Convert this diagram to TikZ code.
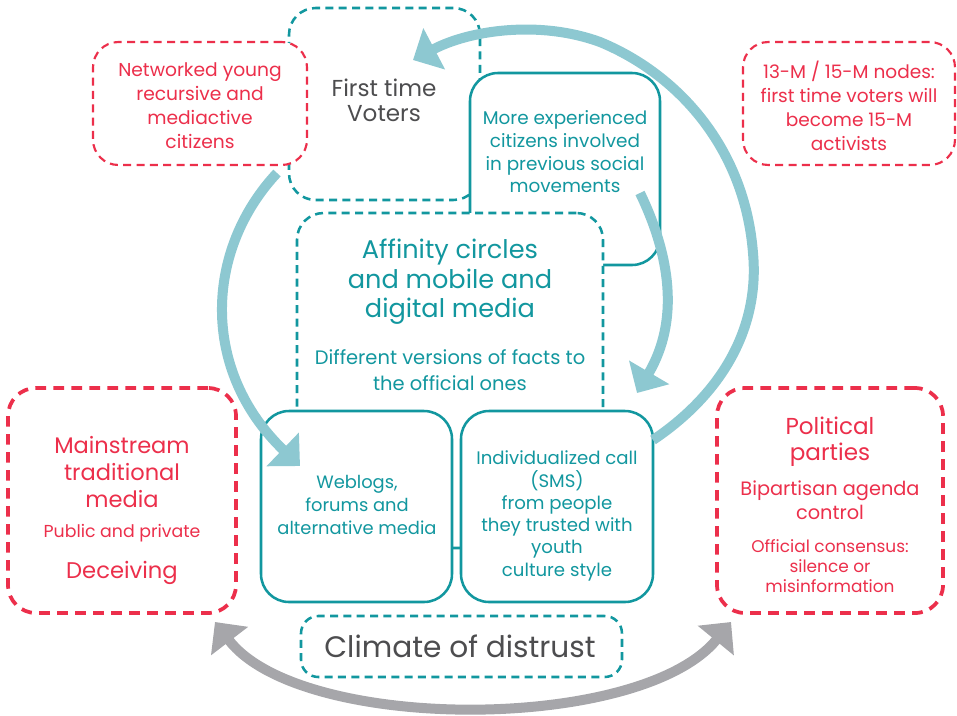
\documentclass[tikz,border=0pt]{standalone}
\usepackage{fontspec}
\setmainfont{Poppins}
\usetikzlibrary{arrows.meta,fit}
\definecolor{teal1}{HTML}{12979F}
\definecolor{red1}{HTML}{EC2F4B}
\definecolor{lblue}{HTML}{8DC8D1}
\definecolor{garr}{HTML}{A6A6AA}
\definecolor{gtxt}{HTML}{4D4D4F}
\newcommand{\fsz}[2]{\fontsize{#1}{#2}\selectfont}
\tikzset{
 tdash/.style={draw=teal1, line width=1.9pt, dash pattern=on 6pt off 4pt, rounded corners=20pt, fill=white, inner sep=0pt},
 tsolid/.style={draw=teal1, line width=1.9pt, rounded corners=21pt, fill=white, inner sep=0pt},
 rdash/.style={draw=red1, line width=1.6pt, dash pattern=on 6pt off 4pt, rounded corners=19pt, fill=white, inner sep=0pt},
 rbig/.style={draw=red1, line width=2.8pt, dash pattern=on 8pt off 5.5pt, rounded corners=21pt, fill=white, inner sep=0pt},
 txt/.style={align=center, inner sep=0pt},
 flow/.style={draw=lblue, line width=7.5pt, -{Triangle[length=18pt,width=34pt]}},
 grayflow/.style={draw=garr, line width=7.5pt, {Triangle[length=18pt,width=34pt]}-{Triangle[length=18pt,width=34pt]}},
}
\begin{document}
\begin{tikzpicture}[x=0.75pt,y=-0.75pt]
\useasboundingbox (0,0) rectangle (957,715);
% boxes
\node[tdash, fit={(289,8)(480,200)}] (ftv) {};
\node[rdash, fit={(93,42)(307,165)}] (net) {};
\node[tsolid, fit={(470,73)(660,265)}] (exp) {};
\node[tdash, fit={(297,213)(603,548)}] (aff) {};
\node[tsolid, fit={(261,411)(452,602)}] (web) {};
\node[tsolid, fit={(461,411)(653,602)}] (ind) {};
\node[tdash, rounded corners=13pt, fit={(301,616)(622,677)}] (clim) {};
\node[rbig, fit={(8,388)(236,613)}] (main) {};
\node[rbig, fit={(717,388)(943,613)}] (pol) {};
\node[rdash, fit={(743,42)(955,165)}] (m15) {};
% texts
\node[txt, text=red1, font=\fsz{14}{18}] (netT) at (200,106) {Networked young\\recursive and\\mediactive\\citizens};
\node[txt, text=gtxt, font=\fsz{17.3}{19}] (ftvT) at (384,100) {First time\\Voters};
\node[txt, text=teal1, font=\fsz{13.8}{17}] (expT) at (565,152) {More experienced\\citizens involved\\in previous social\\movements};
\node[txt, text=red1, font=\fsz{13.9}{18}] (m15T) at (849,106) {13-M / 15-M nodes:\\first time voters will\\become 15-M\\activists};
\node[txt, text=teal1, font=\fsz{19.2}{22}] (affT) at (450,282) {Affinity circles\\and mobile and\\digital media};
\node[txt, text=teal1, font=\fsz{14.6}{19}] (affS) at (450,370) {Different versions of facts to\\the official ones};
\node[txt, text=teal1, font=\fsz{13.4}{17}] (webT) at (357,505) {Weblogs,\\forums and\\alternative media};
\node[txt, text=teal1, font=\fsz{13.6}{16.7}] (indT) at (557,516) {Individualized call\\(SMS)\\from people\\they trusted with\\youth\\culture style};
\node[txt, text=gtxt, font=\fsz{22.2}{25}] (climT) at (460,646) {Climate of distrust};
\node[txt, text=red1, font=\fsz{16.9}{20.5}] (mainT) at (122,472) {Mainstream\\traditional\\media};
\node[txt, text=red1, font=\fsz{13}{14}] (mainS) at (122,533) {Public and private};
\node[txt, text=red1, font=\fsz{17}{19}] (mainD) at (122,573) {Deceiving};
\node[txt, text=red1, font=\fsz{17.3}{19.5}] (polT) at (830,442) {Political\\parties};
\node[txt, text=red1, font=\fsz{14.5}{18}] (polS) at (830,500) {Bipartisan agenda\\control};
\node[txt, text=red1, font=\fsz{12.7}{15}] (polO) at (830,566) {Official consensus:\\silence or\\misinformation};
% arrows
\coordinate (a1s) at (653,440);
\coordinate (a1e) at (413,60);
\draw[flow] (a1s) .. controls (720,395) and (760,330) .. (753,253)
  .. controls (745,150) and (680,75) .. (600,42)
  .. controls (540,20) and (470,30) .. (a1e);
\coordinate (a2s) at (640,193);
\coordinate (a2e) at (637,393);
\draw[flow] (a2s) .. controls (670,255) and (680,320) .. (a2e);
\coordinate (a3s) at (277,173);
\coordinate (a3e) at (300,466);
\draw[flow] (a3s) .. controls (205,250) and (200,370) .. (a3e);
\coordinate (g1) at (215,622);
\coordinate (g2) at (731,622);
\draw[grayflow] (g1) .. controls (300,733) and (640,733) .. (g2);
\end{tikzpicture}
\end{document}
